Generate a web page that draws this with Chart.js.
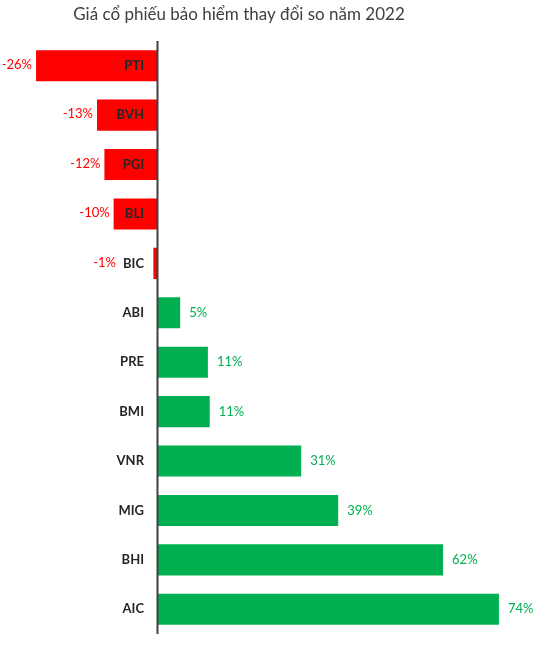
<!DOCTYPE html>
<html>
<head>
<meta charset="utf-8">
<script src="https://cdn.jsdelivr.net/npm/chart.js@4.4.1/dist/chart.umd.min.js"></script>
<style>
html,body{margin:0;padding:0;background:#fff;}
#wrap{width:547px;height:650px;position:relative;}
</style>
</head>
<body>
<div id="wrap"><canvas id="c"></canvas></div>
<script>
const titleText = 'Giá cổ phiếu bảo hiểm thay đổi so năm 2022';
const categories = ['PTI','BVH','PGI','BLI','BIC','ABI','PRE','BMI','VNR','MIG','BHI','AIC'];
const values = [-26.4,-13.2,-11.6,-9.6,-1.0,4.8,10.8,11.2,31.0,39.0,61.7,73.8];
const valueLabels = ['-26%','-13%','-12%','-10%','-1%','5%','11%','11%','31%','39%','62%','74%'];

const RED = '#FF0000';
const GREEN = '#00B050';
const FONT = 'Lato, "Noto Sans", sans-serif';

const overlay = {
  id: 'overlay',
  afterDatasetsDraw(chart) {
    const ctx = chart.ctx;
    const xs = chart.scales.x, ys = chart.scales.y;
    const area = chart.chartArea;
    const x0 = xs.getPixelForValue(0);
    ctx.save();
    // axis line
    ctx.strokeStyle = '#404040';
    ctx.lineWidth = 2;
    ctx.beginPath();
    ctx.moveTo(x0 - 0.5, area.top);
    ctx.lineTo(x0 - 0.5, area.bottom);
    ctx.stroke();
    // category labels
    ctx.textBaseline = 'middle';
    categories.forEach((c, i) => {
      const y = ys.getPixelForValue(i);
      ctx.font = 'bold 13px ' + FONT;
      ctx.fillStyle = '#262626';
      ctx.textAlign = 'right';
      const catRight = x0 - 14;
      ctx.fillText(c, catRight, y);
      const catW = ctx.measureText(c).width;
      // value labels
      const v = values[i];
      const xe = xs.getPixelForValue(v);
      ctx.font = '13px ' + FONT;
      if (v < 0) {
        ctx.fillStyle = RED;
        ctx.textAlign = 'right';
        ctx.fillText(valueLabels[i], Math.min(xe - 4, catRight - catW - 7), y - 1);
      } else {
        ctx.fillStyle = GREEN;
        ctx.textAlign = 'left';
        ctx.fillText(valueLabels[i], xe + 9, y);
      }
    });
    // title
    ctx.font = '17px ' + FONT;
    ctx.fillStyle = '#404040';
    ctx.textAlign = 'center';
    ctx.textBaseline = 'middle';
    ctx.fillText(titleText, 239, 15);
    ctx.restore();
  }
};

new Chart(document.getElementById('c'), {
  type: 'bar',
  data: {
    labels: categories,
    datasets: [{
      data: values,
      backgroundColor: values.map(v => v < 0 ? RED : GREEN),
      borderWidth: 0,
      categoryPercentage: 1,
      barPercentage: 0.63
    }]
  },
  options: {
    indexAxis: 'y',
    responsive: true,
    maintainAspectRatio: false,
    animation: false,
    layout: { padding: { left: 19.4, right: 19.4, top: 41, bottom: 16 } },
    scales: {
      x: { display: false, min: -30, max: 80 },
      y: { display: false }
    },
    plugins: {
      legend: { display: false },
      tooltip: { enabled: false },
      title: { display: false }
    }
  },
  plugins: [overlay]
});
</script>
</body>
</html>
